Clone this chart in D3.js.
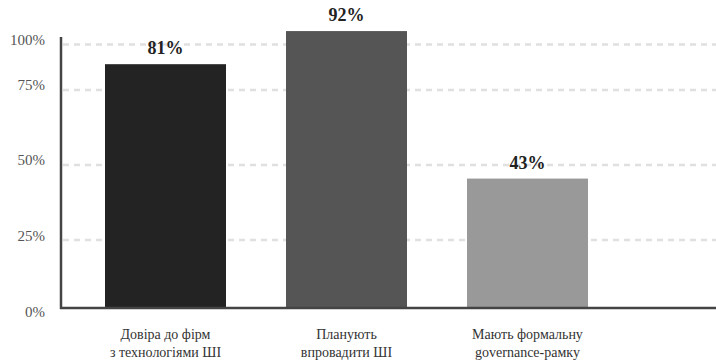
<!DOCTYPE html>
<html>
	<head>
		<meta charset="utf-8">
		<title>ai trust</title>
		<style>
			body { margin: 0; background: #fff; }
			svg { display: block; font-family: "Liberation Serif", serif; }
			.grid line { stroke: #e0e0e0; stroke-width: 2.5; stroke-dasharray: 6 5; }
			.tick-label { fill: #555; font-size: 15px; }
			.value { fill: #222; font-size: 18px; font-weight: bold; }
			.cat { fill: #333; font-size: 14px; }
		</style>
		<script src="https://d3js.org/d3.v7.min.js"></script>
	</head>
	<body>
		<svg id="chart" width="716" height="361"></svg>
		<script>
			// data
			const categories = ['Довіра до фірм\nз технологіями ШІ', 'Планують\nвпровадити ШІ', 'Мають формальну\ngovernance-рамку'];
			const values = [81, 92, 43];
			const barColors = ['#232323', '#555555', '#999999'];
			const tickValues = [0, 25, 50, 75, 100];
			const tickLabels = ['0%', '25%', '50%', '75%', '100%'];

			const W = 716, H = 361;
			const left = 61, base = 308;
			const svg = d3.select('#chart');

			// bars use a plain linear scale, grid/labels sit where the original put them
			const y = d3.scaleLinear().domain([0, 100]).range([base, 7]);
			const gridY = d3.scaleLinear().domain(tickValues).range([base, 240, 165, 90, 44.5]);
			const labelY = d3.scaleLinear().domain(tickValues).range([312, 236, 160, 85, 40]);

			const x = d3.scaleBand()
				.domain(categories)
				.range([60, 633])
				.paddingInner(0.3315)
				.paddingOuter(0.2486);

			svg.append('g').attr('class', 'grid')
				.selectAll('line')
				.data(tickValues.slice(1))
				.join('line')
				.attr('x1', left + 2).attr('x2', W)
				.attr('y1', d => gridY(d)).attr('y2', d => gridY(d));

			svg.append('g')
				.selectAll('text')
				.data(tickValues)
				.join('text')
				.attr('class', 'tick-label')
				.attr('x', 45)
				.attr('y', d => labelY(d))
				.attr('dy', '0.35em')
				.attr('text-anchor', 'end')
				.text((d, i) => tickLabels[i]);

			svg.append('g')
				.selectAll('rect')
				.data(values)
				.join('rect')
				.attr('x', (d, i) => x(categories[i]))
				.attr('y', d => y(d))
				.attr('width', x.bandwidth())
				.attr('height', d => base - y(d))
				.attr('fill', (d, i) => barColors[i]);

			svg.append('g')
				.selectAll('text')
				.data(values)
				.join('text')
				.attr('class', 'value')
				.attr('x', (d, i) => x(categories[i]) + x.bandwidth() / 2)
				.attr('y', d => y(d) - 10)
				.attr('text-anchor', 'middle')
				.text(d => d + '%');

			const cats = svg.append('g')
				.selectAll('text')
				.data(categories)
				.join('text')
				.attr('class', 'cat')
				.attr('text-anchor', 'middle')
				.attr('x', d => x(d) + x.bandwidth() / 2)
				.attr('y', 339);
			cats.selectAll('tspan')
				.data(d => d.split('\n').map(s => [s, x(d) + x.bandwidth() / 2]))
				.join('tspan')
				.attr('x', d => d[1])
				.attr('dy', (d, i) => i ? 18 : 0)
				.text(d => d[0]);

			// axes lines
			svg.append('line')
				.attr('x1', left).attr('x2', left)
				.attr('y1', 37).attr('y2', base + 1)
				.attr('stroke', '#444').attr('stroke-width', 2.5);
			svg.append('line')
				.attr('x1', left - 1).attr('x2', W)
				.attr('y1', base).attr('y2', base)
				.attr('stroke', '#444').attr('stroke-width', 2.5);
		</script>
	</body>
</html>
